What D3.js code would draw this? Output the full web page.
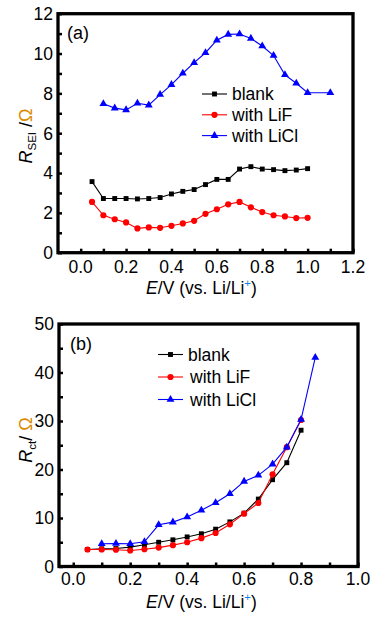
<!DOCTYPE html>
<html><head><meta charset="utf-8">
<script src="https://cdn.jsdelivr.net/npm/d3@7"></script>
<style>
body{margin:0;background:#fff;}
svg text{font-family:"Liberation Sans",Arial,sans-serif;fill:#000;}
</style></head>
<body><div id="chart"></div>
<script>
// ---- Panel (a): R_SEI ----
const aBlankE = [0.05,0.10,0.15,0.20,0.25,0.30,0.35,0.40,0.45,0.50,0.55,0.60,0.65,0.70,0.75,0.80,0.85,0.90,0.95,1.00];
const aBlank  = [3.57,2.72,2.72,2.72,2.70,2.72,2.77,2.95,3.08,3.17,3.42,3.68,3.68,4.20,4.32,4.20,4.17,4.12,4.15,4.22];
const aLiFE   = [0.05,0.10,0.15,0.20,0.25,0.30,0.35,0.40,0.45,0.50,0.55,0.60,0.65,0.70,0.75,0.80,0.85,0.90,0.95,1.00];
const aLiF    = [2.55,1.88,1.68,1.52,1.22,1.27,1.25,1.35,1.47,1.60,1.95,2.18,2.43,2.55,2.28,2.04,1.88,1.82,1.74,1.75];
const aLiClE  = [0.10,0.15,0.20,0.25,0.30,0.35,0.40,0.45,0.50,0.55,0.60,0.65,0.70,0.75,0.80,0.85,0.90,0.95,1.00,1.10];
const aLiCl   = [7.48,7.26,7.17,7.50,7.41,7.94,8.44,9.01,9.54,10.04,10.67,10.96,10.98,10.76,10.38,9.90,8.93,8.51,8.03,8.03];
const aYTicks = [0,2,4,6,8,10,12];
const aXTicks = [0.0,0.2,0.4,0.6,0.8,1.0,1.2];

// ---- Panel (b): R_ct ----
const bBlankE = [0.05,0.10,0.15,0.20,0.25,0.30,0.35,0.40,0.45,0.50,0.55,0.60,0.65,0.70,0.75,0.80];
const bBlank  = [3.5,3.65,3.7,4.0,4.5,5.0,5.5,6.1,6.75,7.7,9.2,11.0,13.9,17.9,21.4,28.1];
const bLiFE   = [0.05,0.10,0.15,0.20,0.25,0.30,0.35,0.40,0.45,0.50,0.55,0.60,0.65,0.70,0.75,0.80];
const bLiF    = [3.5,3.5,3.45,3.3,3.55,3.9,4.4,5.0,5.85,6.9,8.7,10.9,13.1,19.0,24.6,30.2];
const bLiClE  = [0.10,0.15,0.20,0.25,0.30,0.35,0.40,0.45,0.50,0.55,0.60,0.65,0.70,0.75,0.80,0.85];
const bLiCl   = [4.7,4.75,4.7,5.1,8.6,9.15,10.2,11.6,13.15,15.0,17.55,18.8,21.1,24.6,30.3,43.1];
const bYTicks = [0,10,20,30,40,50];
const bXTicks = [0.0,0.2,0.4,0.6,0.8,1.0];

const seriesNames = ["blank","with LiF","with LiCl"];
const colors = ["#000000","#ff0000","#0000ff"];
const shapes = [d3.symbolSquare, d3.symbolCircle, d3.symbolTriangle];
const shapeSizes = [24, 30, 27];

const W = 389, H = 624;
const svg = d3.select("#chart").append("svg").attr("width",W).attr("height",H);

function panel(cfg){
  const g = svg.append("g");
  const x = d3.scaleLinear().domain(cfg.xDom).range([cfg.left,cfg.right]);
  const y = d3.scaleLinear().domain(cfg.yDom).range([cfg.bottom,cfg.top]);

  // inward ticks
  const xAx = d3.axisBottom(x).tickValues(d3.range(cfg.xMinorStart, cfg.xDom[1]+1e-9, 0.1)).tickSize(-4).tickFormat("");
  g.append("g").attr("transform",`translate(0,${cfg.bottom})`).call(xAx)
    .call(s=>s.select(".domain").remove())
    .call(s=>s.selectAll("line").attr("stroke","#000").attr("stroke-width",2.5));
  const yAx = d3.axisLeft(y).tickValues(d3.range(cfg.yDom[0], cfg.yDom[1]+1e-9, cfg.yMinor)).tickSize(-4).tickFormat("");
  g.append("g").attr("transform",`translate(${cfg.left},0)`).call(yAx)
    .call(s=>s.select(".domain").remove())
    .call(s=>s.selectAll("line").attr("stroke","#000").attr("stroke-width",2.5));

  // tick labels
  g.selectAll(".xl").data(cfg.xTicks).enter().append("text")
    .attr("x",d=>x(d)).attr("y",cfg.xLabelY).attr("text-anchor","middle")
    .attr("font-size",17.5).text(d=>d.toFixed(1));
  g.selectAll(".yl").data(cfg.yTicks).enter().append("text")
    .attr("x",cfg.left-5).attr("y",d=>y(d)).attr("dy","0.36em").attr("text-anchor","end")
    .attr("font-size",17.5).text(d=>d);

  // series
  cfg.series.forEach((s,i)=>{
    const pts = s.e.map((e,j)=>[e,s.v[j]]);
    g.append("path").datum(pts)
      .attr("fill","none").attr("stroke",colors[i]).attr("stroke-width",1.1)
      .attr("d",d3.line().x(d=>x(d[0])).y(d=>y(d[1])));
    g.selectAll(null).data(pts).enter().append("path")
      .attr("transform",d=>`translate(${x(d[0])},${y(d[1])})`)
      .attr("d",d3.symbol().type(shapes[i]).size(shapeSizes[i]))
      .attr("fill",colors[i]);
  });

  // frame
  g.append("rect").attr("x",cfg.left).attr("y",cfg.top)
    .attr("width",cfg.right-cfg.left).attr("height",cfg.bottom-cfg.top)
    .attr("fill","none").attr("stroke","#000").attr("stroke-width",3.3);

  // legend
  seriesNames.forEach((n,i)=>{
    const ly = cfg.legY + i*cfg.legDy;
    g.append("line").attr("x1",cfg.legX).attr("x2",cfg.legX+25).attr("y1",ly).attr("y2",ly)
      .attr("stroke",colors[i]).attr("stroke-width",1.1);
    g.append("path").attr("transform",`translate(${cfg.legX+12.5},${ly})`)
      .attr("d",d3.symbol().type(shapes[i]).size(shapeSizes[i])).attr("fill",colors[i]);
    g.append("text").attr("x",cfg.legX+30+(i>0?cfg.legTxtOff:0)).attr("y",ly).attr("dy","0.36em")
      .attr("font-size",17.5).text(n);
  });

  // panel label
  g.append("text").attr("x",cfg.tagX).attr("y",cfg.tagY).attr("dy","0.36em").attr("font-size",18).text(cfg.tag);

  // x title
  const xt = g.append("text").attr("x",(cfg.left+cfg.right)/2 + cfg.xTitleOff).attr("y",cfg.xTitleY)
    .attr("text-anchor","middle").attr("font-size",17.5);
  xt.append("tspan").attr("font-style","italic").text("E");
  xt.append("tspan").text("/V (vs. Li/Li");
  xt.append("tspan").attr("font-size",11.5).attr("dy",-7).attr("fill","#1a7fd4").text("+");
  xt.append("tspan").attr("dy",7).text(")");

  // y title
  const yt = g.append("text").attr("transform",`translate(32,${cfg.yTitleY}) rotate(-90)`)
    .attr("text-anchor","middle").attr("font-size",18);
  yt.append("tspan").attr("font-style","italic").text("R");
  yt.append("tspan").attr("font-size",11.5).attr("dy",4).text(cfg.sub);
  yt.append("tspan").attr("dy",-4).text(cfg.sep);
  yt.append("tspan").attr("fill","#d98a00").text("Ω");
}

panel({
  left:58, right:353, top:13.7, bottom:252.7,
  xDom:[-0.1,1.2], yDom:[0,12], xMinorStart:0.0, yMinor:1,
  xTicks:aXTicks, yTicks:aYTicks, xLabelY:273, xTitleY:294, xTitleOff:-4,
  series:[{e:aBlankE,v:aBlank},{e:aLiFE,v:aLiF},{e:aLiClE,v:aLiCl}],
  legX:202, legY:94, legDy:20.8, legTxtOff:0,
  tag:"(a)", tagX:67, tagY:33, yTitleY:136, sub:"SEI", sep:" /"
});
panel({
  left:59, right:358, top:324, bottom:566.5,
  xDom:[-0.05,1.0], yDom:[0,50], xMinorStart:0.0, yMinor:5,
  xTicks:bXTicks, yTicks:bYTicks, xLabelY:584.5, xTitleY:607.5, xTitleOff:-7,
  series:[{e:bBlankE,v:bBlank},{e:bLiFE,v:bLiF},{e:bLiClE,v:bLiCl}],
  legX:158, legY:354.5, legDy:22.5, legTxtOff:2,
  tag:"(b)", tagX:70, tagY:344, yTitleY:440, sub:"ct", sep:"/ "
});
</script></body></html>
